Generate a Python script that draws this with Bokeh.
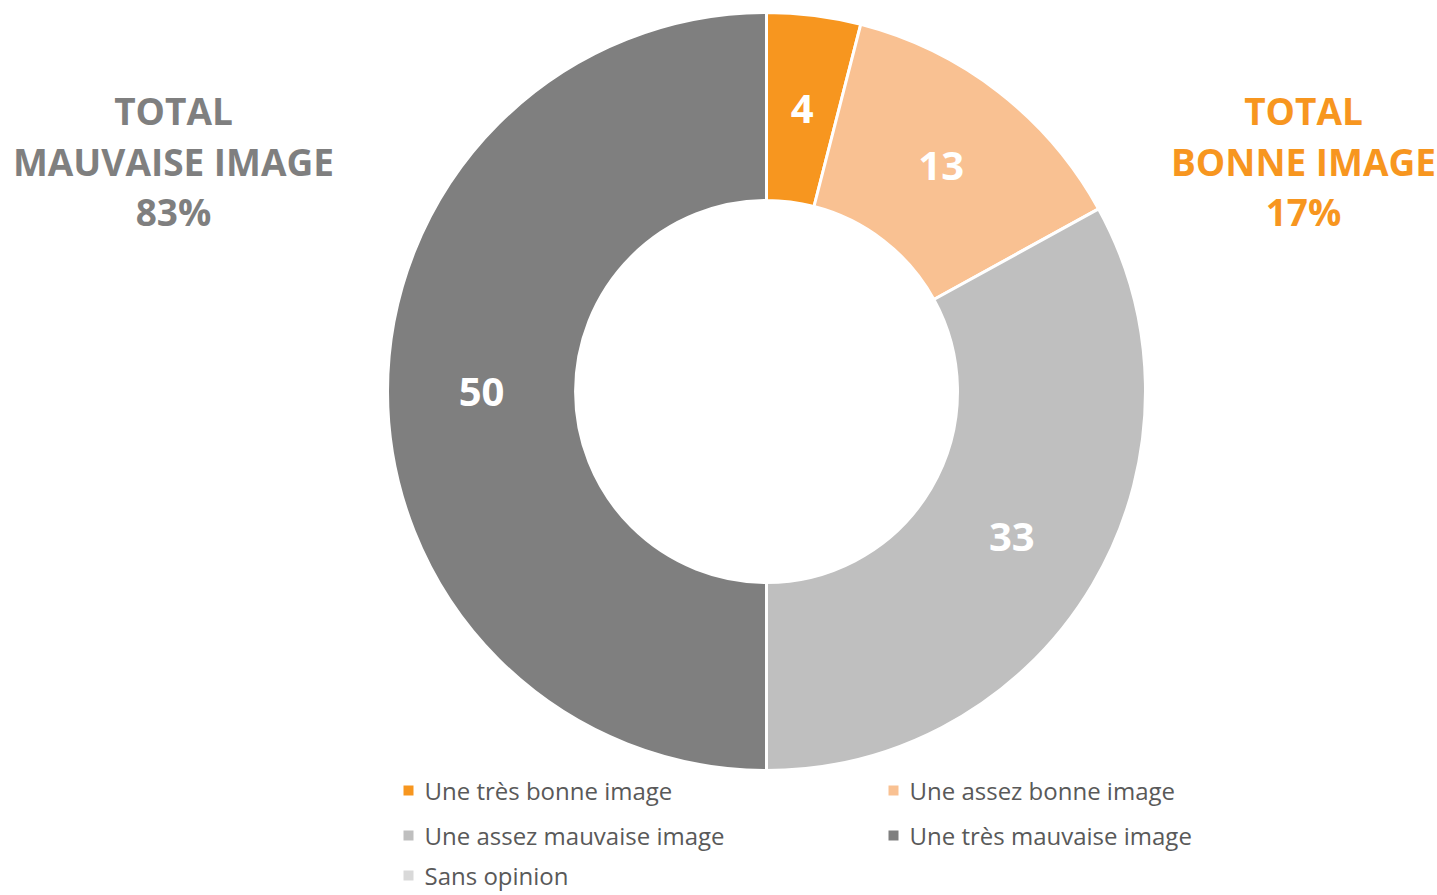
import numpy as np
from bokeh.plotting import figure
from bokeh.models import Range1d, ColumnDataSource
from bokeh.core.properties import value
from bokeh.embed import file_html
from bokeh.resources import INLINE

categories = ["Une très bonne image", "Une assez bonne image", "Une assez mauvaise image",
              "Une très mauvaise image", "Sans opinion"]
values = [4, 13, 33, 50, 0]
colors = ["#F7961F", "#F9C192", "#BFBFBF", "#7F7F7F", "#D9D9D9"]
total_bad_label = ["TOTAL", "MAUVAISE IMAGE", "83%"]
total_good_label = ["TOTAL", "BONNE IMAGE", "17%"]

W, H = 1437, 895
FONT = "Open Sans"

def py(y_img):
    return H - y_img

def px(x_img):
    return x_img

p = figure(width=W, height=H, output_backend="svg", toolbar_location=None,
           x_range=Range1d(0, W), y_range=Range1d(0, H), min_border=0)
p.axis.visible = False
p.grid.visible = False
p.outline_line_color = None
p.background_fill_color = "white"
p.border_fill_color = "white"

cx, cy = px(766), py(391)
r_out, r_in = 379, 191

vals = np.array(values, dtype=float)
tot = vals.sum()
cum = np.cumsum(vals)
start = np.pi / 2 - 2 * np.pi * cum / tot
end = np.pi / 2 - 2 * np.pi * (cum - vals) / tot
nz = vals > 0
src = ColumnDataSource(dict(start=start[nz], end=end[nz],
                            color=[c for c, k in zip(colors, nz) if k]))
p.annular_wedge(x=cx, y=cy, inner_radius=r_in, outer_radius=r_out,
                start_angle="start", end_angle="end", fill_color="color",
                line_color="white", line_width=3, source=src)

mid = (start + end) / 2
r_mid = (r_in + r_out) / 2
lab_x, lab_y, lab_t = [], [], []
for m, v in zip(mid, values):
    if v > 0:
        lab_x.append(cx + r_mid * np.cos(m))
        lab_y.append(cy + r_mid * np.sin(m))
        lab_t.append(str(v))
p.text(x=lab_x, y=lab_y, text=lab_t, text_color="white", text_font=value(FONT),
       text_font_style="bold", text_font_size="40px", text_align="center",
       text_baseline="middle")

line_y = [110, 161, 211]
p.text(x=[px(173)] * 3, y=[py(v) for v in line_y], text=total_bad_label,
       text_color="#7F7F7F", text_font=value(FONT), text_font_style="bold",
       text_font_size="37px", text_align="center", text_baseline="middle")
p.text(x=[px(1303)] * 3, y=[py(v) for v in line_y], text=total_good_label,
       text_color="#F7961F", text_font=value(FONT), text_font_style="bold",
       text_font_size="37px", text_align="center", text_baseline="middle")

# legend
col_x = [408, 893]
row_y = [790, 835, 875]
lx, ly, lt, lc = [], [], [], []
for i, (cat, col) in enumerate(zip(categories, colors)):
    lx.append(px(col_x[i % 2]))
    ly.append(py(row_y[i // 2]))
    lt.append(cat)
    lc.append(col)
p.rect(x=lx, y=ly, width=10, height=10, fill_color=lc, line_color=None)
p.text(x=[x + 16 for x in lx], y=ly, text=lt, text_color="#595959",
       text_font=value(FONT), text_font_size="24px", text_align="left",
       text_baseline="middle")

open("out.html", "w").write(file_html(p, INLINE))
